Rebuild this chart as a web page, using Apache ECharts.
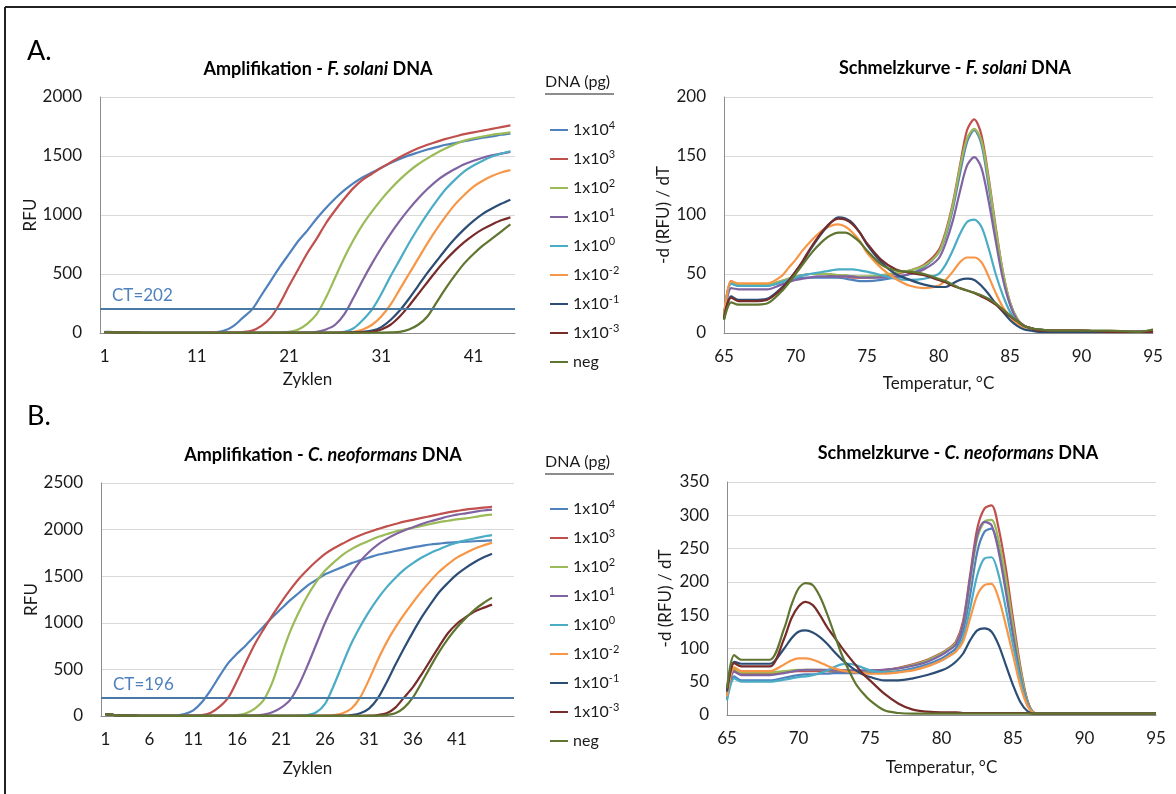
<!DOCTYPE html>
<html><head><meta charset="utf-8">
<script src="https://cdn.jsdelivr.net/npm/echarts@6/dist/echarts.min.js"></script>
<style>html,body{margin:0;padding:0;background:#fff;} #c{width:1176px;height:794px;}</style>
</head><body><div id="c"></div>
<script>
// ---------- categories / tick labels ----------
const cyclesFs = ['1','2','3','4','5','6','7','8','9','10','11','12','13','14','15','16','17','18','19','20','21','22','23','24','25','26','27','28','29','30','31','32','33','34','35','36','37','38','39','40','41','42','43','44','45'];
const cyclesCn = ['1','2','3','4','5','6','7','8','9','10','11','12','13','14','15','16','17','18','19','20','21','22','23','24','25','26','27','28','29','30','31','32','33','34','35','36','37','38','39','40','41','42','43','44','45','46','47'];
const temps = [65,65.5,66,67,68,69,69.5,70,70.5,71,71.5,72,72.5,73,73.5,74,74.5,75,76,77,78,79,80,80.5,81,81.5,82,82.5,83,83.5,84,84.5,85,85.5,86,86.5,87,88,90,92,94,95];
const legendLabels = ['1x10^4','1x10^3','1x10^2','1x10^1','1x10^0','1x10^-2','1x10^-1','1x10^-3','neg'];
const colors = ['#4F81BD','#C0504D','#9BBB59','#8064A2','#4BACC6','#F79646','#2C4D75','#772C2A','#5F7530'];
const ctFs = 202;
const ctCn = 196;

// ---------- A: amplification F. solani (RFU per cycle) ----------
const ampFs_e4  = [10,8,6,4,3,2,2,2,2,2,2,3,5,20,60,130,200,320,440,560,670,780,870,970,1060,1140,1210,1270,1320,1360,1400,1440,1475,1505,1530,1555,1575,1595,1610,1625,1640,1655,1665,1680,1690];
const ampFs_e3  = [8,6,4,3,2,2,2,2,2,2,2,2,2,2,3,8,20,60,130,250,400,540,680,800,930,1040,1140,1230,1300,1350,1400,1445,1490,1530,1565,1595,1620,1645,1665,1685,1700,1715,1730,1745,1760];
const ampFs_e2  = [8,6,4,3,2,2,2,2,2,2,2,2,2,2,2,2,2,2,3,5,10,30,80,160,300,470,640,790,920,1030,1130,1220,1300,1370,1430,1480,1525,1565,1600,1630,1650,1665,1680,1690,1700];
const ampFs_e1  = [8,6,4,3,2,2,2,2,2,2,2,2,2,2,2,2,2,2,2,2,3,4,6,10,30,70,160,300,450,590,720,840,950,1050,1140,1220,1290,1345,1390,1430,1460,1485,1505,1520,1535];
const ampFs_e0  = [8,6,4,3,2,2,2,2,2,2,2,2,2,2,2,2,2,2,2,2,2,2,2,2,3,5,10,40,110,200,330,480,620,760,890,1010,1120,1220,1300,1370,1420,1460,1495,1520,1540];
const ampFs_em2 = [8,6,4,3,2,2,2,2,2,2,2,2,2,2,2,2,2,2,2,2,2,2,2,2,2,3,5,10,30,70,140,240,370,500,630,760,880,990,1090,1170,1240,1290,1330,1360,1380];
const ampFs_em1 = [8,6,4,3,2,2,2,2,2,2,2,2,2,2,2,2,2,2,2,2,2,2,2,2,2,2,3,5,10,20,50,110,190,290,400,510,610,710,800,880,950,1010,1055,1095,1130];
const ampFs_em3 = [8,6,4,3,2,2,2,2,2,2,2,2,2,2,2,2,2,2,2,2,2,2,2,2,2,2,2,3,5,10,30,70,140,230,330,430,530,620,700,770,830,880,920,955,980];
const ampFs_neg = [8,6,4,3,2,2,2,2,2,2,2,2,2,2,2,2,2,2,2,2,2,2,2,2,2,2,2,2,2,2,3,5,10,30,70,140,260,380,490,590,670,740,800,860,920];

// ---------- A: melt curve F. solani (-dRFU/dT per temp) ----------
const meltFs_e4  = [15,42,40,40,40,43,45,46,47,47,47,47,47,47,46,45,44,44,45,47,50,56,68,82,105,135,162,172,160,125,85,50,25,12,6,4,3,2,2,1,1,2];
const meltFs_e3  = [13,44,41,41,41,44,46,48,49,50,50,50,49,48,48,47,47,47,48,50,53,58,70,86,110,142,172,181,168,132,90,52,26,12,6,4,3,2,2,1,1,2];
const meltFs_e2  = [14,43,41,41,41,44,46,48,49,50,50,50,50,49,49,48,48,48,49,51,53,57,68,84,108,140,165,173,163,130,88,52,26,12,6,4,3,2,2,1,1,3];
const meltFs_e1  = [12,38,37,37,37,41,43,45,46,47,48,48,48,48,48,48,47,47,47,48,50,54,63,76,95,120,142,149,140,112,78,46,24,11,6,4,3,2,2,1,1,2];
const meltFs_e0  = [13,42,40,40,40,43,45,47,49,50,51,52,53,54,54,54,53,52,49,46,45,46,50,58,70,84,94,96,90,72,50,32,18,9,5,3,2,2,2,1,1,2];
const meltFs_em2 = [14,44,42,42,42,48,55,62,70,77,83,88,91,92,90,85,78,68,55,46,40,38,40,45,52,60,64,64,60,48,34,22,14,8,5,3,2,2,2,1,1,1];
const meltFs_em1 = [12,31,28,28,29,38,44,52,60,70,79,87,94,98,97,93,85,75,60,50,45,41,39,39,42,45,46,45,40,33,25,18,11,6,3,2,1,1,1,1,1,1];
const meltFs_em3 = [13,30,27,27,28,37,44,52,61,71,80,88,94,97,96,92,85,76,62,54,51,49,45,43,40,38,36,34,31,28,24,19,14,10,6,4,2,2,2,1,1,1];
const meltFs_neg = [11,26,24,24,25,35,42,50,58,66,73,79,83,85,85,82,77,70,58,53,52,50,46,44,41,38,36,34,32,29,25,20,15,10,6,4,3,2,2,2,1,3];

// ---------- B: amplification C. neoformans ----------
const ampCn_e4  = [20,10,5,3,2,2,2,3,5,20,60,150,280,430,570,670,760,860,960,1060,1150,1240,1320,1400,1460,1520,1560,1600,1640,1670,1700,1730,1750,1770,1790,1810,1825,1840,1850,1860,1865,1870,1875,1880,1885];
const ampCn_e3  = [20,10,5,3,2,2,2,2,2,2,3,10,35,100,200,380,580,770,930,1080,1220,1350,1470,1570,1660,1740,1800,1850,1900,1940,1975,2005,2035,2060,2085,2105,2125,2145,2165,2185,2200,2215,2225,2235,2245];
const ampCn_e2  = [20,10,5,3,2,2,2,2,2,2,2,2,2,2,3,10,30,80,170,360,640,900,1110,1290,1440,1560,1650,1730,1790,1840,1880,1920,1950,1980,2000,2020,2040,2060,2080,2095,2110,2120,2135,2150,2160];
const ampCn_e1  = [20,10,5,3,2,2,2,2,2,2,2,2,2,2,2,2,3,5,15,40,90,170,330,540,770,1000,1200,1380,1530,1660,1760,1840,1900,1950,1990,2025,2060,2090,2115,2140,2160,2175,2190,2205,2215];
const ampCn_e0  = [20,10,5,3,2,2,2,2,2,2,2,2,2,2,2,2,2,2,2,2,2,2,3,10,40,130,330,560,780,960,1120,1260,1380,1480,1570,1640,1700,1750,1790,1830,1860,1885,1905,1925,1940];
const ampCn_em2 = [20,10,5,3,2,2,2,2,2,2,2,2,2,2,2,2,2,2,2,2,2,2,2,2,2,3,10,30,80,200,390,600,790,950,1090,1220,1340,1450,1550,1630,1700,1750,1795,1830,1860];
const ampCn_em1 = [20,10,5,3,2,2,2,2,2,2,2,2,2,2,2,2,2,2,2,2,2,2,2,2,2,2,2,3,10,30,80,190,360,550,730,900,1060,1200,1330,1430,1520,1590,1650,1700,1740];
const ampCn_em3 = [20,10,5,3,2,2,2,2,2,2,2,2,2,2,2,2,2,2,2,2,2,2,2,2,2,2,2,2,2,2,3,10,30,90,200,310,450,600,750,890,990,1060,1120,1160,1195];
const ampCn_neg = [20,10,5,3,2,2,2,2,2,2,2,2,2,2,2,2,2,2,2,2,2,2,2,2,2,2,2,2,2,2,2,3,10,30,90,200,360,530,690,830,950,1050,1140,1210,1270];

// ---------- B: melt curve C. neoformans ----------
const meltCn_e4  = [25,58,52,52,52,56,58,60,61,61,62,62,63,63,63,63,63,63,64,66,70,76,85,92,100,125,180,245,275,280,250,195,130,70,22,3,2,2,2,2,2,2];
const meltCn_e3  = [30,68,62,62,62,64,65,66,66,66,66,66,66,66,66,66,66,67,68,71,76,83,93,100,110,140,210,280,310,315,280,220,145,75,22,3,2,2,2,2,2,2];
const meltCn_e2  = [32,70,64,64,64,66,67,68,68,68,68,67,67,67,67,66,66,66,67,70,75,82,92,99,108,135,200,265,290,293,262,205,135,70,20,3,2,2,2,2,2,2];
const meltCn_e1  = [30,65,60,60,60,63,65,67,68,68,68,68,67,67,67,67,67,67,68,70,74,80,90,97,106,135,205,270,290,285,245,185,120,60,18,3,2,2,2,2,2,2];
const meltCn_e0  = [22,55,50,50,50,53,55,57,58,60,63,67,72,76,77,75,71,67,64,65,68,74,82,88,96,115,160,210,235,237,210,160,105,55,16,3,2,2,2,2,2,2];
const meltCn_em2 = [28,72,66,66,66,76,82,85,85,83,79,74,70,67,65,64,63,62,62,64,67,73,82,88,95,110,145,180,195,197,175,135,90,45,14,3,2,2,2,2,2,2];
const meltCn_em1 = [35,80,77,77,77,100,115,125,127,124,117,107,95,84,75,67,61,57,52,52,55,60,67,72,80,92,112,127,130,125,105,75,45,20,6,2,2,2,2,2,2,2];
const meltCn_em3 = [38,78,73,73,73,115,145,163,170,165,150,132,117,102,88,75,62,52,32,17,8,5,4,4,4,3,3,3,3,3,3,3,3,3,3,2,2,2,2,2,2,2];
const meltCn_neg = [40,90,83,83,83,130,165,190,198,195,178,152,122,92,68,47,33,22,7,3,2,2,2,2,2,2,2,2,2,2,2,2,2,2,2,2,2,2,2,2,2,2];

// ---------- build ----------
const FONT = 'Lato, "Liberation Sans", sans-serif';
const TXT = '#1a1a1a';
const ampFs = [ampFs_e4,ampFs_e3,ampFs_e2,ampFs_e1,ampFs_e0,ampFs_em2,ampFs_em1,ampFs_em3,ampFs_neg];
const meltFs = [meltFs_e4,meltFs_e3,meltFs_e2,meltFs_e1,meltFs_e0,meltFs_em2,meltFs_em1,meltFs_em3,meltFs_neg];
const ampCn = [ampCn_e4,ampCn_e3,ampCn_e2,ampCn_e1,ampCn_e0,ampCn_em2,ampCn_em1,ampCn_em3,ampCn_neg];
const meltCn = [meltCn_e4,meltCn_e3,meltCn_e2,meltCn_e1,meltCn_e0,meltCn_em2,meltCn_em1,meltCn_em3,meltCn_neg];

function lineSeries(arrs, axisIdx, isMelt, ct) {
  return arrs.map((d, k) => {
    const s = {
      name: legendLabels[k], type: 'line', xAxisIndex: axisIdx, yAxisIndex: axisIdx,
      data: isMelt ? temps.map((t, j) => [t, d[j]]) : d,
      showSymbol: false, symbol: 'none', smooth: 0.3, animation: false,
      lineStyle: { width: 2.2, color: colors[k] }, itemStyle: { color: colors[k] }
    };
    if (ct != null && k === 0) {
      s.markLine = {
        silent: true, symbol: 'none', animation: false,
        data: [{ yAxis: ct }],
        lineStyle: { color: '#4a7aa3', width: 2, type: 'solid' },
        label: { show: true, position: 'insideStartTop', formatter: 'CT=' + ct, color: '#4F81BD', fontSize: 17, fontFamily: FONT, distance: [12, 5] }
      };
    }
    return s;
  });
}

const axisLineStyle = { lineStyle: { color: '#8c8c8c', width: 1 } };
const labelStyle = { fontSize: 17, color: TXT, fontFamily: FONT };
const nameStyle = { fontSize: 17, color: TXT, fontFamily: FONT };
const plainNum = v => String(v);

function catX(grid, data, intervalFn, gap) {
  return { type: 'category', gridIndex: grid, data: data, boundaryGap: true,
    axisTick: { show: false }, axisLine: axisLineStyle,
    axisLabel: Object.assign({ interval: intervalFn, margin: 15 }, labelStyle),
    name: 'Zyklen', nameLocation: 'middle', nameGap: gap, nameTextStyle: nameStyle, splitLine: { show: false } };
}
function tempX(grid, gap) {
  return { type: 'value', gridIndex: grid, min: 65, max: 95, interval: 5,
    axisTick: { show: false }, axisLine: axisLineStyle, splitLine: { show: false },
    axisLabel: Object.assign({ margin: 15, formatter: plainNum }, labelStyle),
    name: 'Temperatur, °C', nameLocation: 'middle', nameGap: gap, nameTextStyle: nameStyle };
}
function valY(grid, max, interval, name, gap) {
  return { type: 'value', gridIndex: grid, min: 0, max: max, interval: interval,
    axisTick: { show: false }, axisLine: Object.assign({ show: true }, axisLineStyle),
    splitLine: { show: true, lineStyle: { color: '#d9d9d9', width: 1 } },
    axisLabel: Object.assign({ margin: 18, formatter: plainNum }, labelStyle),
    name: name, nameLocation: 'middle', nameGap: gap, nameTextStyle: nameStyle };
}

const supFormatter = n => {
  const m = n.match(/^(1x10)\^(-?\d)$/);
  return m ? m[1] + '{sup|' + m[2] + '}' : n;
};
function legendAt(top) {
  return { data: legendLabels, orient: 'vertical', left: 545, top: top,
    itemWidth: 18, itemHeight: 2, itemGap: 9, icon: 'rect', selectedMode: false,
    formatter: supFormatter,
    textStyle: { fontFamily: FONT, fontSize: 16, color: TXT, lineHeight: 20,
      rich: { sup: { fontFamily: FONT, fontSize: 11, color: TXT, verticalAlign: 'top', lineHeight: 12 } } } };
}

const titleRich = {
  b: { fontFamily: FONT, fontSize: 18, fontWeight: 'bold', color: '#000' },
  i: { fontFamily: FONT, fontSize: 18, fontWeight: 'bold', fontStyle: 'italic', color: '#000' }
};
function titleAt(text, x, y) {
  return { text: text, left: x, top: y, textAlign: 'center', textStyle: { rich: titleRich } };
}

const option = {
  animation: false,
  backgroundColor: '#fff',
  color: colors,
  title: [
    titleAt('{b|Amplifikation - }{i|F. solani}{b| DNA}', 313, 55),
    titleAt('{b|Schmelzkurve - }{i|F. solani}{b| DNA}', 950, 54),
    titleAt('{b|Amplifikation - }{i|C. neoformans}{b| DNA}', 318, 441),
    titleAt('{b|Schmelzkurve - }{i|C. neoformans}{b| DNA}', 953, 439),
    { text: 'A.', left: 22, top: 33, textStyle: { fontFamily: FONT, fontSize: 27, fontWeight: 'normal', color: '#000' } },
    { text: 'B.', left: 22, top: 398, textStyle: { fontFamily: FONT, fontSize: 27, fontWeight: 'normal', color: '#000' } }
  ],
  legend: [legendAt(115), legendAt(494)],
  grid: [
    { left: 100, top: 97, width: 415, height: 236 },
    { left: 724, top: 97, width: 429, height: 236 },
    { left: 101, top: 483, width: 413, height: 233 },
    { left: 727, top: 482, width: 429, height: 233 }
  ],
  xAxis: [
    catX(0, cyclesFs, 9, 38),
    tempX(1, 42),
    catX(2, cyclesCn, (i) => i % 5 === 0 && i <= 40, 44),
    tempX(3, 44)
  ],
  yAxis: [
    valY(0, 2000, 500, 'RFU', 60),
    valY(1, 200, 50, '-d (RFU) / dT', 52),
    valY(2, 2500, 500, 'RFU', 60),
    valY(3, 350, 50, '-d (RFU) / dT', 53)
  ],
  graphic: [
    { type: 'line', shape: { x1: 5, y1: 7, x2: 1176, y2: 7 }, style: { stroke: '#222', lineWidth: 2 } },
    { type: 'line', shape: { x1: 5, y1: 7, x2: 5, y2: 794 }, style: { stroke: '#222', lineWidth: 2 } },
    { type: 'text', left: 545, top: 74, style: { text: 'DNA (pg)', font: '16px ' + FONT, fill: TXT } },
    { type: 'line', shape: { x1: 545, y1: 94, x2: 614, y2: 94 }, style: { stroke: TXT, lineWidth: 1 } },
    { type: 'text', left: 545, top: 454, style: { text: 'DNA (pg)', font: '16px ' + FONT, fill: TXT } },
    { type: 'line', shape: { x1: 545, y1: 474, x2: 614, y2: 474 }, style: { stroke: TXT, lineWidth: 1 } }
  ],
  series: [].concat(
    lineSeries(ampFs, 0, false, ctFs),
    lineSeries(meltFs, 1, true, null),
    lineSeries(ampCn, 2, false, ctCn),
    lineSeries(meltCn, 3, true, null)
  )
};
const chart = echarts.init(document.getElementById('c'));
chart.setOption(option);
</script>
</body></html>
